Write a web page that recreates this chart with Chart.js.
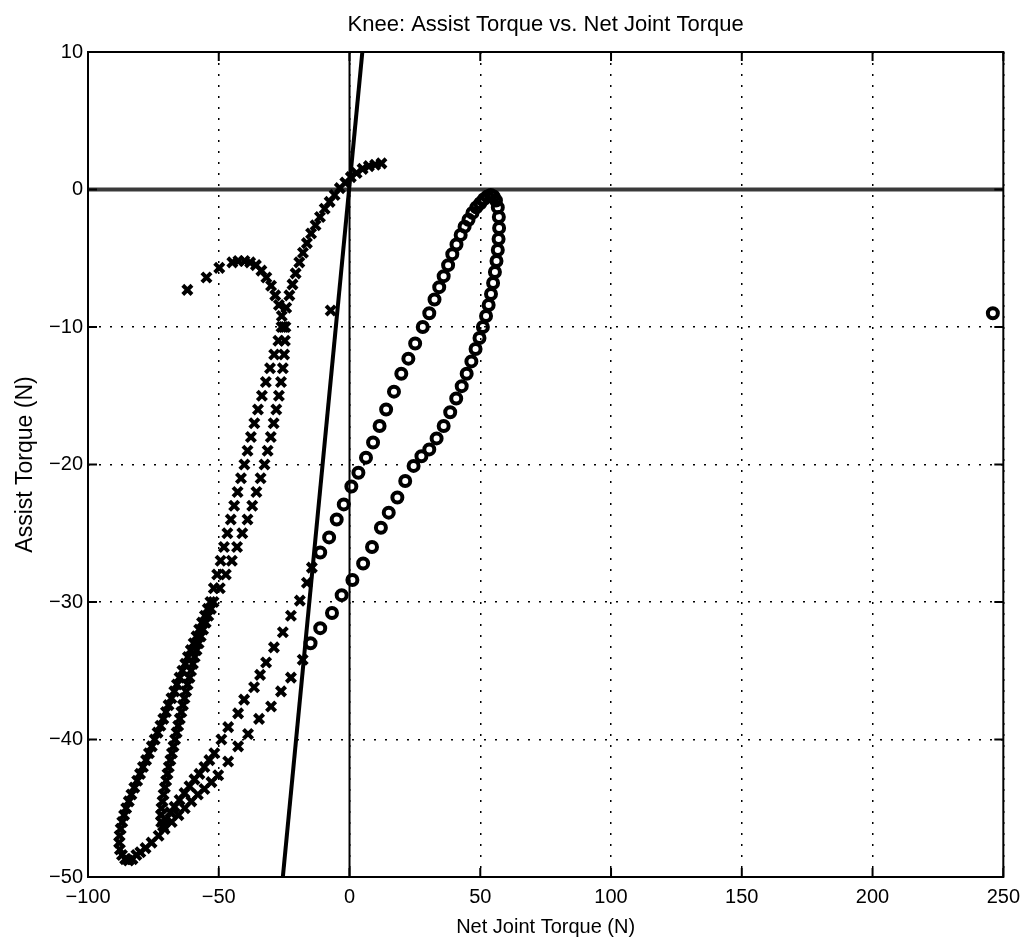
<!DOCTYPE html>
<html>
<head>
<meta charset="utf-8">
<script src="https://cdn.jsdelivr.net/npm/chart.js@4/dist/chart.umd.min.js"></script>
<style>
  body { margin: 0; background: #fff; }
</style>
</head>
<body>
<canvas id="canvas" width="1028" height="945"></canvas>
<script>
// tick labels
var xTickValues = [-100, -50, 0, 50, 100, 150, 200, 250];
var yTickValues = [-50, -40, -30, -20, -10, 0, 10];

var crossHump = [[-62,-7.3],[-54.7,-6.4],[-49.8,-5.7],[-44.8,-5.3],[-42.5,-5.2],[-40.2,-5.2],[-38,-5.3],
  [-35.8,-5.5],[-33.7,-5.9],[-31.8,-6.4],[-30,-7],[-28.4,-7.7],[-27,-8.4],[-25.9,-9.2],[-25.2,-10]];
var crossRise = [[-24.2,-8.6],[-23,-7.7],[-21.8,-6.9],[-20.6,-6.1],[-19.2,-5.3],[-17.8,-4.6],[-16.3,-3.9],
  [-14.7,-3.2],[-13,-2.6],[-11.3,-2],[-9.5,-1.4],[-7.6,-0.9],[-5.7,-0.4],[-3.7,0.1],[-1.6,0.5],[0.5,0.9],
  [2.7,1.2],[5,1.5],[7.4,1.7],[9.8,1.8],[12.2,1.9]];
var crossOuter = [[-26,-10],[-27.2,-11],[-28.8,-12],[-30.4,-13],[-32,-14],[-33.5,-15],[-35,-16],[-36.4,-17],
  [-37.7,-18],[-39,-19],[-40.2,-20],[-41.5,-21],[-42.8,-22],[-44.1,-23],[-45.4,-24],[-46.7,-25],[-48,-26],
  [-49.3,-27],[-50.6,-28],[-51.9,-29],[-53.2,-30],[-54.2,-30.5],[-55.3,-31],[-56.4,-31.5],[-57.5,-32],
  [-58.5,-32.5],[-59.6,-33],[-60.7,-33.5],[-61.8,-34],[-62.8,-34.5],[-63.9,-35],[-65,-35.5],[-66,-36],
  [-67,-36.5],[-68.1,-37],[-69.2,-37.5],[-70.2,-38],[-71.2,-38.5],[-72.3,-39],[-73.4,-39.5],[-74.5,-40],
  [-75.6,-40.5],[-76.7,-41],[-77.8,-41.5],[-79,-42],[-80.1,-42.5],[-81.2,-43],[-82.3,-43.5],[-83.4,-44],
  [-84.4,-44.5],[-85.4,-45],[-86.2,-45.5],[-86.9,-46],[-87.5,-46.5],[-87.9,-47],[-88.1,-47.5],[-87.8,-48],
  [-87,-48.4],[-85.8,-48.7],[-84.5,-48.8]];
var crossInner = [[-24.5,-10],[-24.7,-11],[-25,-12],[-25.5,-13],[-26.2,-14],[-27,-15],[-28,-16],[-29,-17],
  [-30.1,-18],[-31.3,-19],[-32.5,-20],[-34,-21],[-35.6,-22],[-37.2,-23],[-39,-24],[-41,-25],[-43,-26],
  [-45,-27],[-47.3,-28],[-49.6,-29],[-52,-30],[-53,-30.5],[-54,-31],[-55,-31.5],[-56,-32],[-56.9,-32.5],
  [-57.7,-33],[-58.5,-33.5],[-59.2,-34],[-59.9,-34.5],[-60.6,-35],[-61.2,-35.5],[-61.9,-36],[-62.5,-36.5],
  [-63.1,-37],[-63.7,-37.5],[-64.3,-38],[-64.9,-38.5],[-65.5,-39],[-66.1,-39.5],[-66.7,-40],[-67.3,-40.5],
  [-67.9,-41],[-68.5,-41.5],[-69.1,-42],[-69.6,-42.5],[-70.1,-43],[-70.6,-43.5],[-71.1,-44],[-71.5,-44.5],
  [-71.9,-45],[-72.1,-45.5],[-72,-46],[-71.3,-46.3]];
var crossUpperReturn = [[-70.3,-45.8],[-68.5,-45.3],[-66.9,-44.9],[-65,-44.4],[-63.1,-43.9],[-61.2,-43.4],
  [-59.3,-42.9],[-57.4,-42.5],[-55.5,-42],[-53.6,-41.5],[-51.7,-41],[-49,-40],[-46.4,-39.1],[-42.6,-38.1],
  [-40.3,-37.1],[-36.5,-36.2],[-34.2,-35.3],[-31.9,-34.4],[-28.9,-33.3],[-25.5,-32.2],[-22.4,-31],
  [-19,-29.9],[-16.3,-28.6],[-14.4,-27.5]];
var crossLowerReturn = [[-83,-48.7],[-81.5,-48.4],[-80,-48.2],[-78,-47.9],[-75.7,-47.5],[-73,-47],[-70.7,-46.5],
  [-68,-46],[-65.4,-45.5],[-63,-45],[-60.5,-44.5],[-58,-44],[-55.5,-43.6],[-52.8,-43.1],[-50.2,-42.6],
  [-46.4,-41.6],[-42.6,-40.5],[-38.8,-39.6],[-34.6,-38.5],[-30,-37.6],[-26.2,-36.5],[-22.4,-35.5],[-17.9,-34.2]];
var crossStray = [[-7.2,-8.8]];

// 'o' markers
var circleUpper = [[-11.2,-26.4],[-7.8,-25.3],[-4.9,-24],[-2.2,-22.9],[0.7,-21.6],[3.4,-20.6],[6.3,-19.5],
  [9,-18.4],[11.5,-17.2],[14,-16],[17,-14.7],[19.8,-13.4],[22.5,-12.3],[25.1,-11.2],[28,-10],[30.5,-9],
  [32.5,-8],[34.3,-7.1],[36,-6.3],[37.7,-5.5],[39.3,-4.7],[40.9,-4],[42.5,-3.3],[44,-2.7],[45.5,-2.2],
  [47,-1.7],[48.5,-1.3],[50,-1],[51.4,-0.7],[52.7,-0.5],[54,-0.4],[55.1,-0.5],[56,-0.8],[56.7,-1.3],[57.1,-2]];
var circleLower = [[57.2,-2.8],[57,-3.6],[56.7,-4.4],[56.2,-5.2],[55.6,-6],[54.9,-6.8],[54.1,-7.6],[53.2,-8.4],
  [52.2,-9.2],[51,-10],[49.7,-10.8],[48.2,-11.6],[46.6,-12.5],[44.8,-13.4],[42.9,-14.3],[40.8,-15.2],
  [38.5,-16.2],[36,-17.2],[33.3,-18.1],[30.5,-18.9],[27.5,-19.4],[24.5,-20.1],[21.3,-21.2],[18.3,-22.4],
  [15,-23.5],[12,-24.6],[8.6,-26],[5.2,-27.2],[1.1,-28.4],[-3,-29.5],[-6.7,-30.8],[-11.2,-31.9],[-14.9,-33]];
var circleStray = [[246,-9]];

// reference lines
var slopeLineX = [-25.5, 4.9];
var slopeLineY = [-50, 10];
var zeroLineX = [0, 0];
var zeroLineY = [-50, 10];
var baseLineX = [-100, 250];
var baseLineY = [0, 0];

function toPoints(pairs) {
  return pairs.map(function(p) { return {x: p[0], y: p[1]}; });
}
function zipPoints(xs, ys) {
  return xs.map(function(v, i) { return {x: v, y: ys[i]}; });
}

var font = 'Liberation Sans, Arial, sans-serif';
Chart.defaults.font.family = font;
Chart.defaults.color = '#000';

// box round the axes and inward tick marks, like the original plot
var frame = {
  id: 'frame',
  afterDraw: function(chart) {
    var ctx = chart.ctx, a = chart.chartArea;
    var xs = chart.scales.x, ys = chart.scales.y;
    ctx.save();
    ctx.strokeStyle = '#000';
    ctx.lineWidth = 2;
    ctx.strokeRect(a.left, a.top, a.right - a.left, a.bottom - a.top);
    ctx.beginPath();
    xs.ticks.forEach(function(t) {
      var px = xs.getPixelForValue(t.value);
      ctx.moveTo(px, a.bottom); ctx.lineTo(px, a.bottom - 9);
      ctx.moveTo(px, a.top); ctx.lineTo(px, a.top + 9);
    });
    ys.ticks.forEach(function(t) {
      var py = ys.getPixelForValue(t.value);
      ctx.moveTo(a.left, py); ctx.lineTo(a.left + 9, py);
      ctx.moveTo(a.right, py); ctx.lineTo(a.right - 9, py);
    });
    ctx.stroke();
    ctx.restore();
  }
};

var crossStyle = {
  pointStyle: 'crossRot', pointRadius: 6.5, pointBorderWidth: 4,
  borderColor: '#000', pointBorderColor: '#000', showLine: false
};
var circleStyle = {
  pointStyle: 'circle', pointRadius: 5, pointBorderWidth: 4,
  borderColor: '#000', pointBorderColor: '#000', pointBackgroundColor: 'rgba(255,255,255,0)',
  backgroundColor: 'rgba(255,255,255,0)', showLine: false
};

var crossData = [].concat(crossHump, crossRise, crossOuter, crossInner, crossUpperReturn, crossLowerReturn, crossStray);
var circleData = [].concat(circleUpper, circleLower, circleStray);

var config = {
  type: 'scatter',
  data: {
    datasets: [
      Object.assign({label: 'x', data: toPoints(crossData)}, crossStyle),
      Object.assign({label: 'o', data: toPoints(circleData)}, circleStyle),
      {label: 'fit', data: zipPoints(slopeLineX, slopeLineY), showLine: true, borderColor: '#000',
        borderWidth: 4, pointRadius: 0},
      {label: 'x0', data: zipPoints(zeroLineX, zeroLineY), showLine: true, borderColor: '#000',
        borderWidth: 2, pointRadius: 0},
      {label: 'y0', data: zipPoints(baseLineX, baseLineY), showLine: true, borderColor: '#3a3a3a',
        borderWidth: 4, pointRadius: 0}
    ]
  },
  options: {
    responsive: false,
    animation: false,
    layout: { padding: { left: 0, right: 20, top: 0, bottom: 0 } },
    plugins: {
      legend: { display: false },
      tooltip: { enabled: false }
    },
    scales: {
      x: {
        type: 'linear', min: -100, max: 250,
        afterBuildTicks: function(s) { s.ticks = xTickValues.map(function(v) { return {value: v}; }); },
        afterFit: function(s) { s.height = 68; },
        ticks: {
          autoSkip: false, maxRotation: 0, padding: 8, color: '#000',
          font: { size: 20 },
          callback: function(v) { return String(v).replace('-', '\u2212'); }
        },
        grid: { color: '#000', lineWidth: 1.5, drawTicks: false },
        border: { display: false, dash: [2, 9] },
        title: { display: true, text: 'Net Joint Torque (N)', color: '#000',
          font: { size: 20 }, padding: { top: 0, bottom: 6 } }
      },
      // top axis only carries the plot title, centred over the axes box
      x2: {
        type: 'linear', position: 'top', min: -100, max: 250,
        afterFit: function(s) { s.height = 52; },
        ticks: { display: false },
        grid: { display: false, drawTicks: false },
        border: { display: false },
        title: { display: true, text: 'Knee: Assist Torque vs. Net Joint Torque', color: '#000',
          font: { size: 22 }, padding: { top: 12, bottom: 0 } }
      },
      y: {
        type: 'linear', min: -50, max: 10,
        afterBuildTicks: function(s) { s.ticks = yTickValues.map(function(v) { return {value: v}; }); },
        afterFit: function(s) { s.width = 88; },
        ticks: {
          autoSkip: false, padding: 5, color: '#000',
          font: { size: 20 },
          callback: function(v) { return String(v).replace('-', '\u2212'); }
        },
        grid: { color: '#000', lineWidth: 1.5, drawTicks: false },
        border: { display: false, dash: [2, 9] },
        title: { display: true, text: 'Assist Torque (N)', color: '#000',
          font: { size: 23 }, padding: { top: 12, bottom: 0 } }
      }
    }
  },
  plugins: [frame]
};

window.onload = function() {
  window.myChart = new Chart(document.getElementById('canvas'), config);
};
</script>
</body>
</html>
